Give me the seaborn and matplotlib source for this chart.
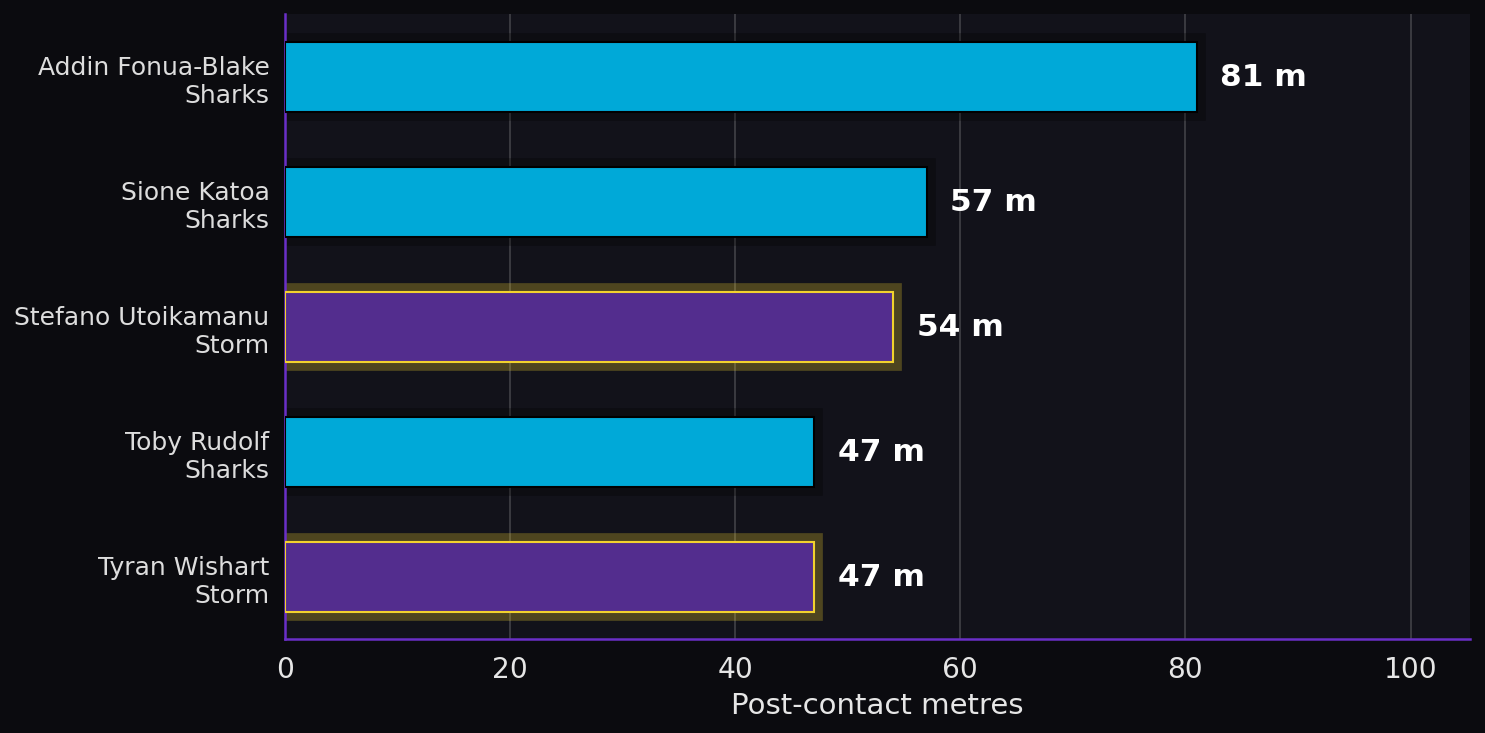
import matplotlib
matplotlib.use("Agg")
import matplotlib.pyplot as plt
import seaborn as sns
import pandas as pd

# Post-contact metres by player
players = ["Addin Fonua-Blake", "Sione Katoa", "Stefano Utoikamanu", "Toby Rudolf", "Tyran Wishart"]
teams = ["Sharks", "Sharks", "Storm", "Sharks", "Storm"]
metres = [81, 57, 54, 47, 47]

team_fill = {"Sharks": "#00a9d8", "Storm": "#532d8e"}
team_edge = {"Sharks": "#000000", "Storm": "#f2d22e"}

df = pd.DataFrame({"player": players, "team": teams, "metres": metres})
df["label"] = df["player"] + "\n" + df["team"]

fig_bg = "#0b0b0f"
ax_bg = "#12121a"

sns.set_theme(style="dark")
plt.rcParams["font.family"] = ["DejaVu Sans"]

fig, ax = plt.subplots(figsize=(9.9, 4.893), dpi=150)
fig.patch.set_facecolor(fig_bg)
ax.set_facecolor(ax_bg)

# soft glow behind each bar
for i, row in df.iterrows():
    glow = team_edge[row["team"]]
    ax.barh(i, row["metres"], height=0.56, color=glow, edgecolor=glow,
            linewidth=8.5, alpha=0.27, zorder=1)

sns.barplot(data=df, x="metres", y="label", hue="team", palette=team_fill,
            orient="h", width=0.56, dodge=False, saturation=1, legend=False,
            ax=ax, zorder=3)

# outline colour per team
for cont, team in zip(ax.containers[len(df):], df["team"].unique()):
    for bar in cont:
        bar.set_edgecolor(team_edge[team])
        bar.set_linewidth(1.0)

ax.set_xlim(0, max(metres) * 1.3)
for i, v in enumerate(metres):
    ax.text(v + max(metres) * 0.026, i, f"{v} m", va="center", ha="left",
            color="white", fontsize=15, fontweight="bold", zorder=5)

ax.set_xticks([0, 20, 40, 60, 80, 100])
ax.grid(axis="x", color="#3c3c42", linewidth=0.9, zorder=0)
ax.grid(axis="y", visible=False)
ax.set_axisbelow(True)

ax.set_xlabel("Post-contact metres", color="#e6e6e6", fontsize=14)
ax.set_ylabel("")
ax.tick_params(axis="x", colors="#e6e6e6", labelsize=13.5, length=4, width=1)
ax.tick_params(axis="y", colors="#e6e6e6", labelsize=12, length=4, width=1)
for lab in ax.get_yticklabels():
    lab.set_color("#dddddd")

for side in ["top", "right"]:
    ax.spines[side].set_visible(False)
for side in ["left", "bottom"]:
    ax.spines[side].set_color("#6a2fc8")
    ax.spines[side].set_linewidth(1.2)

fig.subplots_adjust(left=0.192, right=0.99, bottom=0.128, top=0.979)
fig.savefig("out.png", facecolor=fig_bg)
